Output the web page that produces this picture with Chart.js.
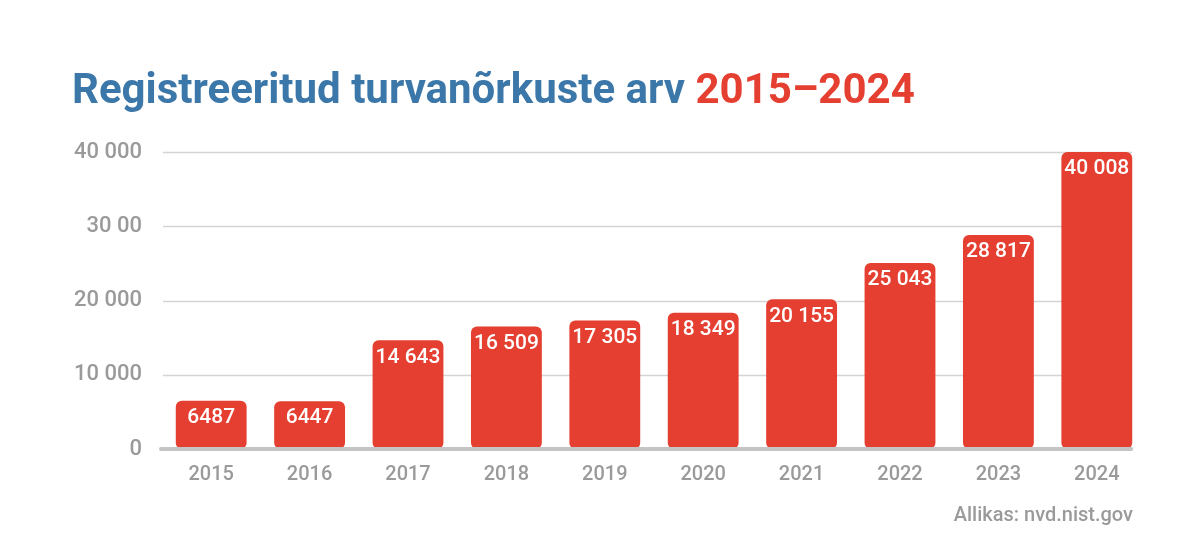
<!DOCTYPE html>
<html>
<head>
<meta charset="utf-8">
<script src="https://cdn.jsdelivr.net/npm/chart.js@4"></script>
<style>
  html, body { margin:0; padding:0; background:#fff; }
  body { width:1200px; height:554px; position:relative; overflow:hidden; font-family: Roboto, "Noto Sans", sans-serif; }
  #title { position:absolute; left:72px; top:68px; font-size:42px; line-height:1; font-weight:700; color:#3b77a8; white-space:nowrap; }
  #title .red { color:#e43f30; }
  #source { position:absolute; right:67px; top:504px; font-size:20px; line-height:1; font-weight:500; color:#9a9a9a; white-space:nowrap; }
  #wrap { position:absolute; left:0; top:0; width:1200px; height:554px; }
</style>
</head>
<body>
<div id="wrap"><canvas id="c" width="1200" height="554"></canvas></div>
<div id="title">Registreeritud turvanõrkuste arv <span class="red">2015–2024</span></div>
<div id="source">Allikas: nvd.nist.gov</div>
<script>
const categories = ["2015","2016","2017","2018","2019","2020","2021","2022","2023","2024"];
const values = [6487, 6447, 14643, 16509, 17305, 18349, 20155, 25043, 28817, 40008];
const valueLabels = ["6487","6447","14 643","16 509","17 305","18 349","20 155","25 043","28 817","40 008"];
const tickValues = [0, 10000, 20000, 30000, 40000];
const tickLabels = ["0", "10 000", "20 000", "30 00", "40 000"];

const RED = "#e43f30";
const GRAY = "#9a9a9a";

const gridPlugin = {
  id: "customGrid",
  beforeDatasetsDraw(chart) {
    const {ctx, chartArea} = chart;
    const y = chart.scales.y;
    const meta = chart.getDatasetMeta(0);
    const last = meta.data[meta.data.length - 1];
    const right = last.x + last.width / 2;
    ctx.save();
    ctx.strokeStyle = "#d4d4d4";
    ctx.lineWidth = 1.5;
    tickValues.forEach(v => {
      if (v === 0) return;
      const py = Math.round(y.getPixelForValue(v)) + 0.5;
      ctx.beginPath();
      ctx.moveTo(chartArea.left + 1, py);
      ctx.lineTo(right, py);
      ctx.stroke();
    });
    ctx.restore();
  },
  afterDatasetsDraw(chart) {
    const {ctx, chartArea} = chart;
    const y = chart.scales.y;
    const meta = chart.getDatasetMeta(0);
    const last = meta.data[meta.data.length - 1];
    const right = last.x + last.width / 2;
    const py = y.getPixelForValue(0);
    ctx.save();
    ctx.strokeStyle = "#c4c4c4";
    ctx.lineWidth = 4;
    ctx.lineCap = "round";
    ctx.beginPath();
    ctx.moveTo(chartArea.left - 1, py);
    ctx.lineTo(right - 1, py);
    ctx.stroke();
    // value labels
    ctx.fillStyle = "#ffffff";
    ctx.font = "500 21px Roboto";
    ctx.textAlign = "center";
    ctx.textBaseline = "middle";
    meta.data.forEach((bar, i) => {
      ctx.fillText(valueLabels[i], bar.x, bar.y + 17);
    });
    ctx.restore();
  }
};

new Chart(document.getElementById("c"), {
  type: "bar",
  data: {
    labels: categories,
    datasets: [{
      data: values,
      backgroundColor: RED,
      borderRadius: 6,
      borderSkipped: false,
      categoryPercentage: 1,
      barPercentage: 0.72,
      clip: false
    }]
  },
  options: {
    responsive: false,
    animation: false,
    devicePixelRatio: 1,
    layout: { padding: { left: 0, right: 54, top: 152, bottom: 65 } },
    plugins: { legend: { display: false }, tooltip: { enabled: false } },
    scales: {
      x: {
        grid: { display: false, drawTicks: false },
        border: { display: false },
        ticks: { color: GRAY, font: { family: "Roboto", size: 20, weight: "500" }, padding: 14 },
        afterFit(scale) { scale.height = 40; }
      },
      y: {
        min: 0, max: 40000,
        grid: { display: false, drawTicks: false },
        border: { display: false },
        afterBuildTicks(scale) { scale.ticks = tickValues.map(v => ({ value: v })); },
        ticks: {
          color: GRAY,
          font: { family: "Roboto", size: 22, weight: "500" },
          padding: 20,
          callback(value) { const i = tickValues.indexOf(value); return i >= 0 ? tickLabels[i] : ""; }
        },
        afterFit(scale) { scale.width = 162; }
      }
    }
  },
  plugins: [gridPlugin]
});
</script>
</body>
</html>
